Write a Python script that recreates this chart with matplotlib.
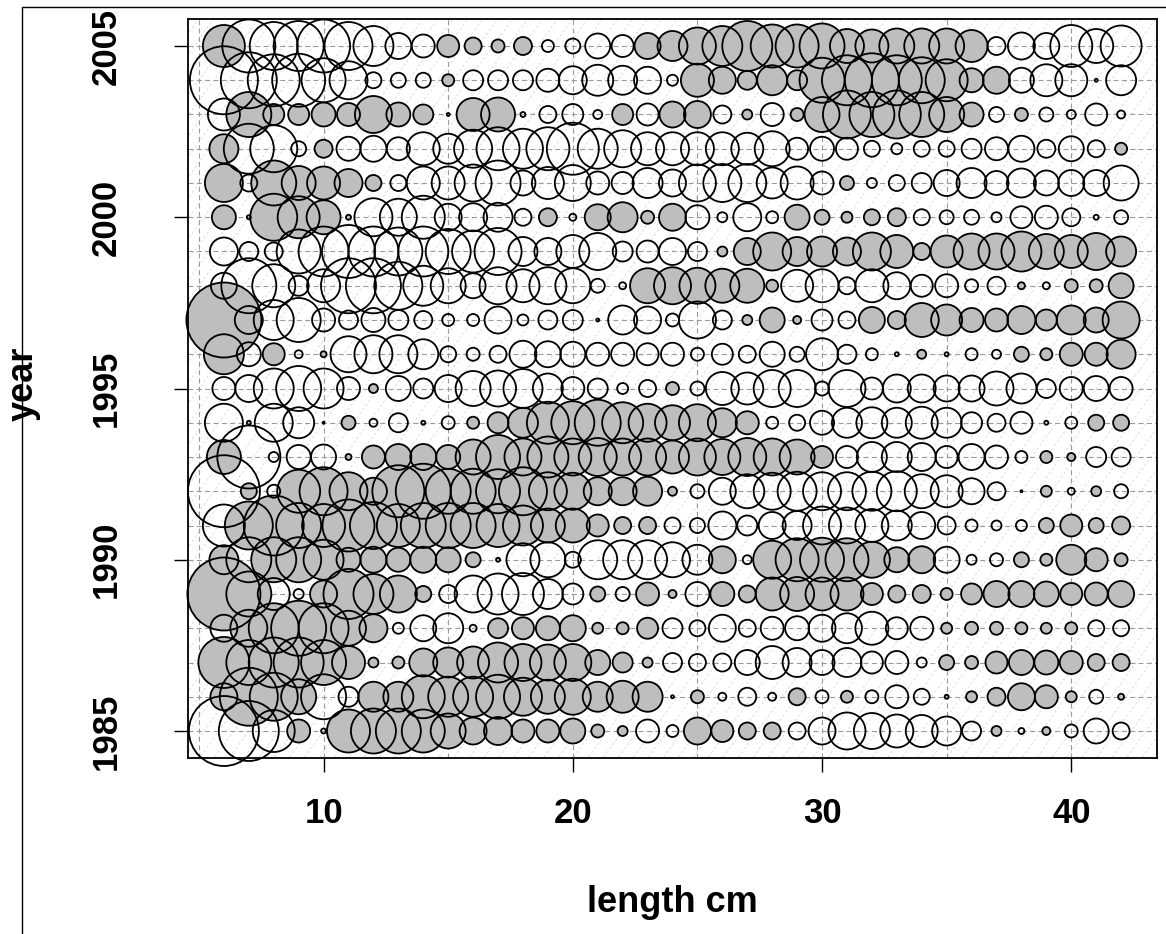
import numpy as np
import matplotlib
matplotlib.use('Agg')
import matplotlib.pyplot as plt
from matplotlib.lines import Line2D

plt.rcParams['font.family'] = ['Liberation Sans', 'DejaVu Sans']
plt.rcParams['font.weight'] = 'bold'

# length classes (cm) and years
lengths = list(range(6, 43))
years = list(range(1985, 2006))

# residuals per year, lengths 6..42 (grey = positive, open = negative)
r1985 = [-7.0, -6.0, -4.2, 2.3, -0.5, 4.3, 4.5, 4.5, 4.3, 3.5,
         2.7, 2.8, 2.3, 2.3, 2.5, 1.3, 1.0, -2.3, -1.2,
         2.7, 2.2, 1.7, 1.7, -1.7, -2.7, -3.7, -3.6, -3.3,
         -3.2, -2.9, -1.9, 1.0, -0.6, 0.8, -1.3, -2.5, -1.7]
r1986 = [2.7, 5.8, 4.8, 3.5, -4.5, -2.0, 3.0, 3.0, 4.3, 4.0,
         4.0, 4.4, 3.8, 3.4, 3.6, 3.0, 3.2, 3.0, -0.3,
         1.3, -0.8, -1.8, -0.8, 1.7, -1.3, 1.2, -1.3, -2.3,
         -1.6, 0.4, 1.1, 1.8, 2.7, 2.3, 1.1, -1.4, 0.6]
r1987 = [5.1, 4.5, 5.0, 5.0, 4.5, 3.3, 1.0, 1.2, 2.8, 3.0,
         3.2, 4.0, 3.7, 3.6, 3.7, 2.5, 2.0, 1.0, -1.9,
         -1.7, -1.8, -2.5, -3.3, -2.9, -2.5, -2.9, -2.2, -2.3,
         -1.0, 1.5, 1.3, 2.2, 2.5, 2.4, 2.3, 1.7, 1.7]
r1988 = [-2.7, 3.7, 5.0, 5.5, 5.0, 3.5, 2.8, -1.1, -2.6, -3.0,
         -0.7, 2.0, 2.2, 2.4, 2.6, 1.1, 1.2, 2.1, -2.0,
         -1.6, -2.7, -1.7, -2.3, -2.4, -2.7, -3.0, -3.3, -2.2,
         -2.3, 1.1, 1.3, 1.3, 1.2, 1.1, 1.2, -1.6, -1.6]
r1989 = [7.3, 4.5, -3.2, -1.0, 2.7, 5.0, 4.0, 3.7, 1.6, -1.8,
         -3.7, -4.1, -4.2, -3.0, -2.1, 1.5, -1.4, 2.3, 0.8,
         -2.4, 2.4, 1.7, 3.3, 3.4, 3.3, 3.3, 2.2, 1.7,
         1.8, 1.2, 2.1, 2.6, 2.6, 2.5, 2.2, 2.3, 2.6]
r1990 = [2.9, -4.5, 4.5, 4.5, 4.0, 2.4, 2.6, 2.4, 2.6, 2.5,
         1.5, 0.4, -3.3, -3.5, -1.6, -3.9, -3.9, -3.9, -3.5,
         -3.0, 2.7, -0.9, 3.8, 4.3, 4.4, 4.3, 3.6, 2.5,
         2.7, -2.6, -1.0, -1.3, 1.5, 1.2, 3.0, 2.3, 1.3]
r1991 = [-4.2, 4.8, 6.0, 4.5, 4.3, 5.2, 4.7, 4.3, 4.5, 4.5,
         4.5, 4.3, 4.0, 3.4, 3.4, 2.2, 1.7, 1.7, -1.6,
         -1.5, -2.8, -2.0, -2.7, -2.9, -3.8, -3.6, -3.3, -3.0,
         -2.7, -1.8, -1.2, -1.0, -1.1, 1.5, 2.2, 1.5, 1.8]
r1992 = [-7.2, 1.6, -1.3, 4.3, 4.8, 3.8, 2.7, 5.2, 5.5, 4.5,
         4.5, 4.4, 4.8, 3.8, 3.7, 2.8, 2.8, 2.9, 0.9,
         -1.4, -2.7, -3.4, -3.7, -3.9, -3.8, -3.8, -3.9, -4.0,
         -3.4, -3.2, -2.6, -1.8, -0.2, 1.1, -0.7, 1.0, -1.4]
r1993 = [3.4, -6.3, -1.0, -2.4, -2.5, 0.6, 2.3, 2.6, 2.6, 2.4,
         3.5, 4.4, 3.7, 4.1, 3.7, 3.8, 3.7, 3.7, 3.3,
         3.7, 3.6, 3.8, 3.7, 3.5, 2.2, -2.2, -3.0, -3.0,
         -2.8, -2.2, -2.6, -2.3, -1.2, 1.2, 0.8, -2.0, -1.9]
r1994 = [-3.8, 0.4, -3.8, -3.1, -0.2, 1.4, -0.8, -1.9, -0.4, -1.3,
         1.2, 2.1, 3.0, 4.2, 4.3, 4.6, 4.1, 3.8, 3.5,
         3.7, 2.9, 2.3, -1.2, -1.6, -2.4, -3.0, -3.1, -3.0,
         -3.2, -3.0, -2.1, -1.8, -2.2, -0.4, -1.2, 1.6, 1.6]
r1995 = [-2.3, -2.7, -4.0, -4.5, -4.0, -2.3, 0.9, -2.5, -2.0, -2.7,
         -3.5, -3.6, -3.9, -3.0, -2.3, -2.0, -1.1, -1.7, 1.3,
         -1.4, -3.3, -3.2, -3.7, -3.7, -1.4, -3.7, -2.2, -2.8,
         -2.8, -2.6, -2.6, -3.4, -3.0, -1.9, -2.3, -2.5, -2.3]
r1996 = [4.0, -2.4, 2.2, -0.8, 0.6, -3.6, -3.8, -3.8, -3.0, -1.6,
         -1.3, -1.7, -2.7, -2.6, -2.5, -2.3, -2.3, -2.2, -2.3,
         -1.3, -2.1, -1.7, -2.5, -1.5, -3.2, -1.9, -1.2, -0.4,
         0.9, -0.4, -1.2, -0.9, 1.5, 1.2, 2.3, 2.3, 2.9]
r1997 = [7.5, 2.8, -4.0, -4.4, -2.3, -1.9, -2.4, -2.0, -1.8, -1.2,
         -1.2, -2.7, -1.1, -1.9, -2.0, -0.3, -2.9, -2.7, -1.3,
         -3.7, -1.9, 1.0, 2.5, 0.8, -2.1, -1.7, 2.6, 1.8,
         3.4, 3.1, 2.4, 2.3, 2.8, 2.1, 2.9, 2.5, 3.7]
r1998 = [-2.6, -5.5, -4.3, -2.0, -3.3, -5.5, -5.5, -4.8, -4.0, -3.5,
         -2.5, -3.7, -3.3, -3.7, -3.5, -1.4, -0.7, 3.5, 3.7,
         3.6, 3.4, 3.4, 1.2, -3.2, -3.3, -1.7, -3.3, -2.7,
         -2.2, -2.3, -1.3, -1.8, 0.7, -0.7, 1.3, 1.3, 2.5]
r1999 = [-2.8, -1.9, -1.8, -4.4, -5.0, -5.3, -5.0, -4.8, -5.0, -4.5,
         -4.2, -4.7, -2.9, -2.7, -3.3, -3.7, -2.0, -2.2, -2.7,
         -1.9, 1.0, 2.7, 3.8, 2.9, 3.0, 2.8, 3.8, 3.3,
         1.7, 3.2, 3.6, 3.6, 4.0, 3.5, 3.3, 3.7, 3.0]
r2000 = [2.4, -0.4, 4.7, 4.2, 3.4, 0.5, -3.8, -3.7, -4.3, -2.7,
         -2.8, -2.9, -1.7, 1.8, -0.7, 2.6, 3.0, 1.3, 2.7,
         -2.4, -1.0, -2.8, -1.2, 2.5, 1.5, 1.1, 1.6, 1.8,
         -1.6, -1.4, -1.5, -1.0, -2.2, -2.3, -1.8, -0.5, -1.4]
r2001 = [3.8, -1.7, 4.5, 3.4, 3.3, 2.8, 1.6, -1.6, -3.3, -3.3,
         -3.7, -4.5, -2.5, -3.2, -3.6, -2.3, -2.2, -3.0, -2.7,
         -3.7, -3.8, -3.8, -3.1, -3.3, -2.3, 1.4, -1.0, -1.6,
         -2.0, -2.6, -3.0, -2.4, -2.9, -2.5, -2.6, -2.6, -3.5]
r2002 = [2.9, -5.0, -4.7, -1.5, 1.8, -2.4, -2.6, -2.3, -3.3, -3.0,
         -3.8, -4.3, -4.0, -4.3, -5.2, -4.0, -3.7, -3.3, -3.3,
         -3.3, -3.3, -3.2, -3.5, -2.2, -2.4, -2.2, -1.6, -1.1,
         -1.6, -1.6, -2.0, -2.3, -2.6, -1.8, -2.5, -1.7, 1.2]
r2003 = [-3.2, 4.5, 2.1, 2.1, 2.4, 2.3, 3.7, 2.4, 2.0, 0.3,
         3.3, 3.4, -0.5, -1.7, -2.1, -0.9, 2.1, -2.2, 2.6,
         2.7, -1.8, 1.0, -2.3, 1.3, 3.5, 4.8, 4.5, 4.8,
         4.5, 3.5, 2.4, -1.5, 1.3, -1.4, -0.9, -2.2, -0.8]
r2004 = [-6.8, -5.6, -5.2, -5.3, -4.4, -3.8, -1.6, -1.5, -1.5, 1.2,
         -2.0, -2.0, -2.0, -2.3, -2.8, -3.1, -2.9, -2.7, -1.1,
         3.3, 2.7, 1.9, 3.0, 2.0, 4.5, 5.0, 5.4, 5.0,
         4.6, 4.2, 2.4, 2.7, -2.5, -3.2, -3.2, -0.3, -3.0]
r2005 = [4.2, -5.3, -4.8, -5.0, -5.3, -4.8, -4.0, -2.6, -2.3, 2.2,
         1.7, 1.3, 1.8, -1.2, -1.5, -2.5, -2.2, 2.6, 3.0,
         3.7, 4.0, 5.0, 4.3, 4.3, 4.5, 3.4, 3.3, 3.5,
         3.5, 3.5, 3.2, -1.8, -2.7, -2.6, -4.2, -3.4, -4.1]

resid = np.array([r1985, r1986, r1987, r1988, r1989, r1990, r1991,
                  r1992, r1993, r1994, r1995, r1996, r1997, r1998,
                  r1999, r2000, r2001, r2002, r2003, r2004, r2005])

X, Y = np.meshgrid(lengths, years)
X = X.ravel()
Y = Y.ravel()
R = resid.ravel()

dpi = 100
fig = plt.figure(figsize=(11.66, 9.34), dpi=dpi)
ax = fig.add_axes([188 / 1166, 1 - 758.4 / 934, 969 / 1166, 739.8 / 934])

ax.set_xlim(4.56, 43.44)
ax.set_ylim(1984.2, 2005.8)

# faint cohort diagonals
for c in np.arange(1930, 2010, 0.6):
    ax.plot([0, 50], [c, c + 50], color='#d8d8d8', lw=0.6,
            linestyle=(0, (3, 3)), zorder=0)

# dashed grid
for yr in years:
    ax.axhline(yr, color='#9a9a9a', lw=0.8, linestyle=(0, (4.5, 3)), zorder=1)
for xv in range(5, 45, 5):
    ax.axvline(xv, color='#9a9a9a', lw=0.8, linestyle=(0, (4.5, 3)), zorder=1)

# bubble area: diameter ~ 10 px per unit residual
diam_pt = np.abs(R) * 10 * 72 / dpi
sizes = diam_pt ** 2
pos = R > 0
ax.scatter(X[pos], Y[pos], s=sizes[pos], c='#bebebe', edgecolors='none',
           clip_on=False, zorder=3)
ax.scatter(X, Y, s=sizes, facecolors='none', edgecolors='black',
           linewidths=1.3, clip_on=False, zorder=4)

for sp in ax.spines.values():
    sp.set_linewidth(1.3)
    sp.set_zorder(5)

ax.set_xticks([10, 20, 30, 40])
ax.set_yticks([1985, 1990, 1995, 2000, 2005])
ax.tick_params(axis='both', direction='out', length=10, width=1,
               labelsize=25)
ax.tick_params(axis='x', pad=18)
ax.tick_params(axis='y', pad=37)
for lab in ax.get_yticklabels():
    lab.set_rotation(90)
    lab.set_va('center')
for lab in ax.get_xticklabels() + ax.get_yticklabels():
    lab.set_fontweight('bold')

fig.text(672 / 1166, 1 - 903 / 934, 'length cm', ha='center', va='center',
         fontsize=26, fontweight='bold')
fig.text(23 / 1166, 1 - 384 / 934, 'year', ha='center', va='center',
         rotation=90, fontsize=26, fontweight='bold')

# outer frame remnant
fig.add_artist(Line2D([22 / 1166, 22 / 1166, 1.0], [0.0, 1 - 7 / 934, 1 - 7 / 934],
                      transform=fig.transFigure, color='black', lw=1))

fig.savefig('out.png', dpi=dpi)
